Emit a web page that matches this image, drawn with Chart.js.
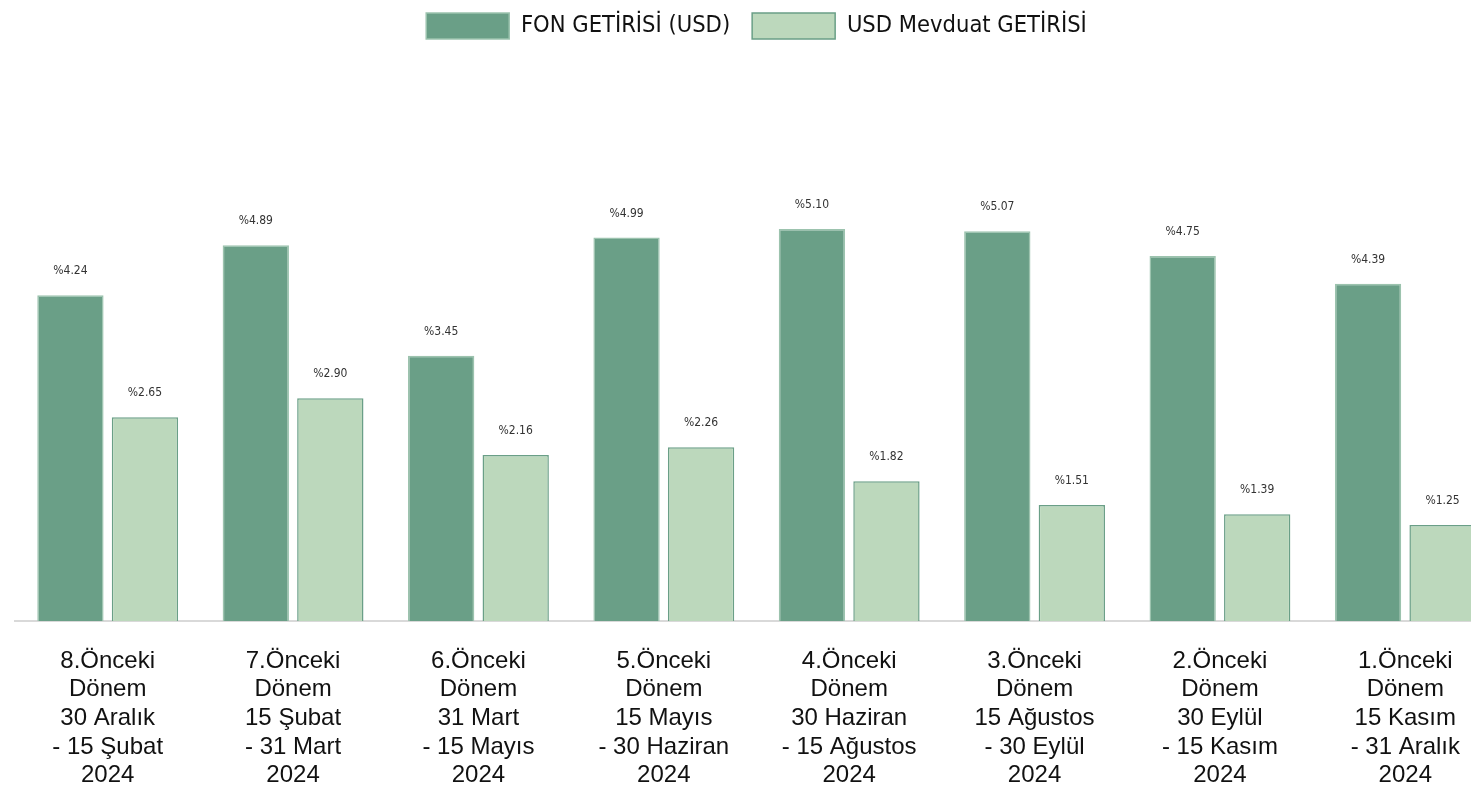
<!DOCTYPE html>
<html>
<head>
<meta charset="utf-8">
<script src="https://cdn.jsdelivr.net/npm/chart.js@4.4.1/dist/chart.umd.min.js"></script>
<style>
html,body{margin:0;padding:0;background:#fff;overflow:hidden;}
#wrap{width:1500px;height:789px;}
</style>
</head>
<body>
<div id="wrap"><canvas id="c" width="1500" height="789"></canvas></div>
<script>
const categories = [
  ["8.Önceki","Dönem","30 Aralık","- 15 Şubat","2024"],
  ["7.Önceki","Dönem","15 Şubat","- 31 Mart","2024"],
  ["6.Önceki","Dönem","31 Mart","- 15 Mayıs","2024"],
  ["5.Önceki","Dönem","15 Mayıs","- 30 Haziran","2024"],
  ["4.Önceki","Dönem","30 Haziran","- 15 Ağustos","2024"],
  ["3.Önceki","Dönem","15 Ağustos","- 30 Eylül","2024"],
  ["2.Önceki","Dönem","30 Eylül","- 15 Kasım","2024"],
  ["1.Önceki","Dönem","15 Kasım","- 31 Aralık","2024"]
];
const fonGetirisi = [4.24, 4.89, 3.45, 4.99, 5.10, 5.07, 4.75, 4.39];
const mevduatGetirisi = [2.65, 2.90, 2.16, 2.26, 1.82, 1.51, 1.39, 1.25];
const seriesNames = ["FON GETİRİSİ (USD)", "USD Mevduat GETİRİSİ"];

const NARROW = '"Liberation Sans Narrow", "DejaVu Sans Condensed", "Roboto Condensed", "Roboto", sans-serif';
const LEGEND_PAD = 22;

const legendTweak = {
  id: 'legendTweak',
  beforeInit(chart) {
    const lg = chart.legend;
    const origFit = lg.fit;
    lg.fit = function () {
      origFit.bind(lg)();
      this.height = 60;
    };
    const origDraw = lg.draw;
    lg.draw = function () {
      const ctx = this.ctx;
      ctx.save();
      ctx.translate(0, 13 - LEGEND_PAD);
      origDraw.apply(this, arguments);
      ctx.restore();
    };
  }
};

const valueLabels = {
  id: 'valueLabels',
  afterDatasetsDraw(chart) {
    const ctx = chart.ctx;
    ctx.save();
    ctx.font = '12px ' + NARROW;
    ctx.fillStyle = '#333333';
    ctx.textAlign = 'center';
    ctx.textBaseline = 'middle';
    chart.data.datasets.forEach((ds, di) => {
      const meta = chart.getDatasetMeta(di);
      meta.data.forEach((bar, i) => {
        ctx.fillText('%' + ds.data[i].toFixed(2), bar.x, bar.y - 24);
      });
    });
    ctx.restore();
  }
};

new Chart(document.getElementById('c'), {
  type: 'bar',
  data: {
    labels: categories,
    datasets: [
      {
        label: seriesNames[0],
        data: fonGetirisi,
        backgroundColor: '#6a9f87',
        borderColor: '#9cc3ae',
        borderWidth: 1.5,
        barPercentage: 0.89,
        categoryPercentage: 0.804
      },
      {
        label: seriesNames[1],
        data: mevduatGetirisi,
        backgroundColor: '#bcd8bc',
        borderColor: '#6a9f87',
        borderWidth: 1.5,
        barPercentage: 0.89,
        categoryPercentage: 0.804
      }
    ]
  },
  options: {
    responsive: false,
    animation: false,
    devicePixelRatio: 1,
    layout: { padding: { left: 15, right: 2, top: 0, bottom: 0 } },
    plugins: {
      legend: {
        position: 'top',
        labels: {
          boxWidth: 83,
          boxHeight: 26,
          padding: LEGEND_PAD,
          color: '#111111',
          font: { size: 23.5, family: NARROW }
        }
      },
      tooltip: { enabled: false }
    },
    scales: {
      x: {
        grid: { display: false, drawTicks: false },
        border: { display: true, color: '#d9d9d9', width: 2 },
        ticks: {
          color: '#111111',
          font: { size: 24, family: '"Liberation Sans", Arial, sans-serif', lineHeight: 1.19 },
          maxRotation: 0,
          autoSkip: false,
          padding: 26
        },
        afterFit(s) { s.height = 168; }
      },
      y: {
        display: false,
        min: 0,
        max: 7.3
      }
    }
  },
  plugins: [legendTweak, valueLabels]
});
</script>
</body>
</html>
